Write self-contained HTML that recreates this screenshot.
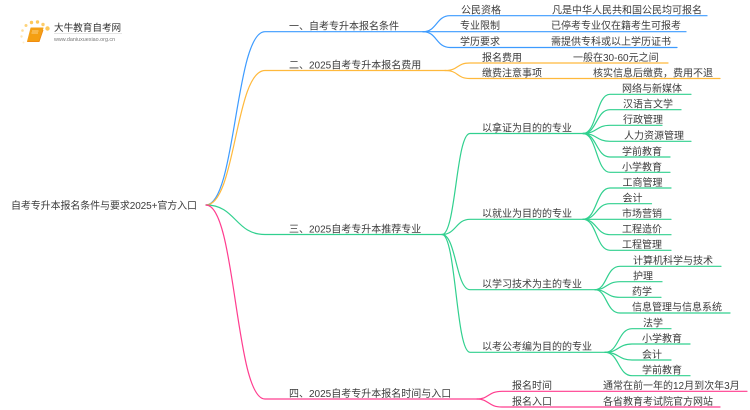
<!DOCTYPE html>
<html lang="zh">
<head>
<meta charset="utf-8">
<title>自考专升本报名条件与要求2025+官方入口</title>
<style>
html,body{margin:0;padding:0;background:#fff;width:750px;height:410px;overflow:hidden}
svg{display:block;filter:blur(.3px)}
text{font-family:"Liberation Sans","Noto Sans CJK SC",sans-serif;font-size:10px;fill:#3c3c3c}
.t text{transform:translateY(.7px)}
.l{fill:none;stroke-width:1.2;stroke-linecap:round}
.b{stroke:#3d9bff}.o{stroke:#ffb93c}.g{stroke:#31d08f}.p{stroke:#ff3d8f}
</style>
</head>
<body>
<svg width="750" height="410" viewBox="0 0 750 410" xmlns="http://www.w3.org/2000/svg">
<!-- logo -->
<g fill="#fdc85a">
<circle cx="47.500" cy="28.500" r="2.200"/><circle cx="43" cy="24.500" r="1.700" opacity=".9"/><circle cx="37.500" cy="22" r="1.700"/><circle cx="31.500" cy="22.500" r="1.700"/><circle cx="26" cy="25.500" r="1.500" opacity=".8"/><circle cx="22.500" cy="30.500" r="1.300" opacity=".6"/><circle cx="21.500" cy="36.500" r="1.200" opacity=".45"/><circle cx="23.500" cy="42.500" r="1" opacity=".3"/>
</g>
<path d="M31 28H43L39 41.500H27.500Z" fill="#f59f12" stroke="#f2a11c" stroke-width="1" stroke-linejoin="round"/>
<path d="M27.500 41.500H39L43 30" fill="none" stroke="#f08c12" stroke-width="1"/>
<path d="M32 31H38.500M31.500 33H38" stroke="#fde3ad" stroke-width=".7"/>
<text x="54" y="31" style="font-size:9.600px;fill:#333">大牛教育自考网</text>
<path d="M54 33.500H122" stroke="#ddd" stroke-width=".7"/>
<text x="54" y="41" style="font-size:5.400px;fill:#777">www.daniuxuexiao.org.cn</text>

<path class="l b" d="M206 205C236 205 235 31.700 265 31.700H423"/>
<path class="l o" d="M206 205C236 205 235 70.500 265 70.500H445"/>
<path class="l g" d="M206 205C236 205 235 234.500 265 234.500H442"/>
<path class="l p" d="M206 205C236 205 235 399 265 399H477"/>

<path class="l b" d="M423 31.700C437 31.700 436 15.700 450 15.700H707"/>
<path class="l b" d="M423 31.700H686"/>
<path class="l b" d="M423 31.700C437 31.700 436 47.500 450 47.500H677"/>

<path class="l o" d="M445 70.500C459 70.500 456 63 470 63H668"/>
<path class="l o" d="M445 70.500C459 70.500 456 78.500 470 78.500H720"/>

<path class="l g" d="M442 234.500C456 234.500 456 133.500 470 133.500H583"/>
<path class="l g" d="M442 234.500C456 234.500 456 219.300 470 219.300H583"/>
<path class="l g" d="M442 234.500C456 234.500 456 289.700 470 289.700H595"/>
<path class="l g" d="M442 234.500C456 234.500 456 352.300 470 352.300H605"/>

<path class="l g" d="M583 133.500C597 133.500 596 94.300 610 94.300H691"/>
<path class="l g" d="M583 133.500C597 133.500 596 109.700 610 109.700H681"/>
<path class="l g" d="M583 133.500C597 133.500 596 125.300 610 125.300H662"/>
<path class="l g" d="M583 133.500C597 133.500 596 141.300 610 141.300H691"/>
<path class="l g" d="M583 133.500C597 133.500 596 157 610 157H670"/>
<path class="l g" d="M583 133.500C597 133.500 596 172.300 610 172.300H670"/>

<path class="l g" d="M583 219.300C597 219.300 596 188 610 188H671"/>
<path class="l g" d="M583 219.300C597 219.300 596 203.700 610 203.700H651.500"/>
<path class="l g" d="M583 219.300H671"/>
<path class="l g" d="M583 219.300C597 219.300 596 234.700 610 234.700H671"/>
<path class="l g" d="M583 219.300C597 219.300 596 250.300 610 250.300H671"/>

<path class="l g" d="M595 289.700C607 289.700 606 266.300 620 266.300H721"/>
<path class="l g" d="M595 289.700C607 289.700 606 281.700 620 281.700H662"/>
<path class="l g" d="M595 289.700C607 289.700 606 297.300 620 297.300H661"/>
<path class="l g" d="M595 289.700C607 289.700 606 313 620 313H730"/>

<path class="l g" d="M605 352.300C619 352.300 618 328.700 632 328.700H671"/>
<path class="l g" d="M605 352.300C619 352.300 618 344 632 344H690"/>
<path class="l g" d="M605 352.300C619 352.300 618 360 632 360H671"/>
<path class="l g" d="M605 352.300C619 352.300 618 375.700 632 375.700H690"/>

<path class="l p" d="M477 399C489 399 488 391.300 502 391.300H747"/>
<path class="l p" d="M477 399C489 399 488 407 502 407H720"/>

<g class="t">
<text x="11" y="208.500" textLength="186" lengthAdjust="spacing">自考专升本报名条件与要求2025+官方入口</text>
<text x="289" y="29">一、自考专升本报名条件</text>
<text x="461" y="13">公民资格</text><text x="552" y="13">凡是中华人民共和国公民均可报名</text>
<text x="460" y="28.500">专业限制</text><text x="551" y="28.500">已停考专业仅在籍考生可报考</text>
<text x="460" y="44.500">学历要求</text><text x="551" y="44.500">需提供专科或以上学历证书</text>
<text x="289" y="68">二、2025自考专升本报名费用</text>
<text x="482" y="60.500">报名费用</text><text x="573" y="60.500">一般在30-60元之间</text>
<text x="482" y="76">缴费注意事项</text><text x="593" y="76">核实信息后缴费，费用不退</text>
<text x="289" y="232">三、2025自考专升本推荐专业</text>
<text x="482" y="131">以拿证为目的的专业</text>
<text x="482" y="216.500">以就业为目的的专业</text>
<text x="482" y="287">以学习技术为主的专业</text>
<text x="482" y="349.500">以考公考编为目的的专业</text>
<text x="622" y="91.500">网络与新媒体</text>
<text x="623" y="107">汉语言文学</text>
<text x="623" y="122.500">行政管理</text>
<text x="624" y="138.500">人力资源管理</text>
<text x="622" y="154.500">学前教育</text>
<text x="622" y="170">小学教育</text>
<text x="622.500" y="185.500">工商管理</text>
<text x="622.500" y="201">会计</text>
<text x="622" y="216.500">市场营销</text>
<text x="622" y="232">工程造价</text>
<text x="622" y="247.500">工程管理</text>
<text x="633" y="263.500">计算机科学与技术</text>
<text x="633" y="279">护理</text>
<text x="632" y="294.500">药学</text>
<text x="632" y="310">信息管理与信息系统</text>
<text x="643" y="326">法学</text>
<text x="642" y="341.500">小学教育</text>
<text x="642" y="357.500">会计</text>
<text x="642" y="373">学前教育</text>
<text x="289" y="396.500">四、2025自考专升本报名时间与入口</text>
<text x="512" y="388.500">报名时间</text><text x="603" y="388.500">通常在前一年的12月到次年3月</text>
<text x="512" y="404.500">报名入口</text><text x="603" y="404.500">各省教育考试院官方网站</text>
</g>
</svg>
</body>
</html>
